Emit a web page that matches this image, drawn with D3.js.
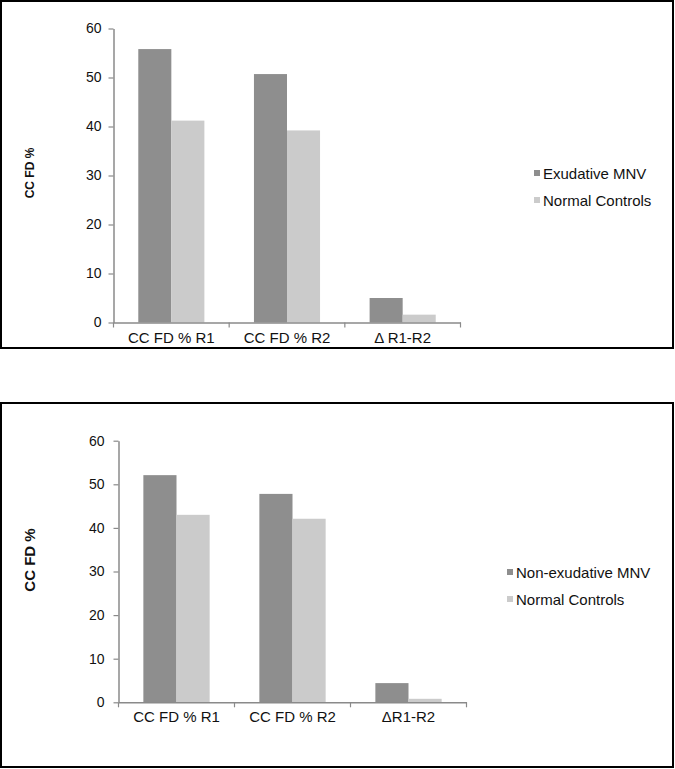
<!DOCTYPE html>
<html>
<head>
<meta charset="utf-8">
<script src="https://cdn.jsdelivr.net/npm/d3@7"></script>
<style>
  html, body { margin: 0; padding: 0; background: #fff; }
  svg { display: block; }
  text { font-family: "Liberation Sans", Arial, Helvetica, sans-serif; fill: #111; }
</style>
</head>
<body>
<svg id="chart" width="675" height="769"></svg>
<script>
// ---- data ----
const categoriesTop = ["CC FD % R1", "CC FD % R2", "\u0394 R1-R2"];
const categoriesBottom = ["CC FD % R1", "CC FD % R2", "\u0394R1-R2"];
const exudativeMNV = [55.8, 50.7, 5.0];
const normalControlsTop = [41.2, 39.2, 1.6];
const nonExudativeMNV = [52.1, 47.8, 4.4];
const normalControlsBottom = [43.0, 42.1, 0.8];
const seriesNamesTop = ["Exudative MNV", "Normal Controls"];
const seriesNamesBottom = ["Non-exudative MNV", "Normal Controls"];
const yTicks = [0, 10, 20, 30, 40, 50, 60];
const yTitle = "CC FD %";

const colors = ["#8e8e8e", "#cbcbcb"];
const axisColor = "#8a8a8a";

const svg = d3.select("#chart");

function drawPanel(cfg) {
  const g = svg.append("g");
  // border
  g.append("rect")
    .attr("x", cfg.box[0]).attr("y", cfg.box[1])
    .attr("width", cfg.box[2]).attr("height", cfg.box[3])
    .attr("fill", "none").attr("stroke", "#000").attr("stroke-width", 2);

  const y = d3.scaleLinear().domain([0, 60]).range([cfg.y0, cfg.y60]);
  const x = d3.scaleBand().domain(cfg.categories).range([cfg.x0, cfg.x1]).padding(0);
  const xs = d3.scaleBand().domain([0, 1]).range([0, x.bandwidth()])
    .paddingInner(0).paddingOuter(0.75);

  // bars
  const series = [cfg.s1, cfg.s2];
  series.forEach((vals, si) => {
    g.selectAll(null).data(vals).enter().append("rect")
      .attr("x", (d, i) => x(cfg.categories[i]) + xs(si))
      .attr("y", d => y(d))
      .attr("width", xs.bandwidth())
      .attr("height", d => y(0) - y(d))
      .attr("fill", colors[si]);
  });

  // y axis
  const yAxis = g.append("g")
    .attr("transform", `translate(${cfg.x0},0)`)
    .call(d3.axisLeft(y).tickValues(yTicks).tickSize(5).tickSizeOuter(0).tickPadding(cfg.yPad));
  yAxis.select(".domain").attr("stroke", axisColor).attr("stroke-width", 1.5);
  yAxis.selectAll(".tick line").attr("stroke", axisColor).attr("stroke-width", 1.2);
  yAxis.selectAll(".tick text").style("font-size", "14px").attr("fill", "#111");

  // x axis
  const xAxis = g.append("g")
    .attr("transform", `translate(0,${cfg.y0})`)
    .call(d3.axisBottom(x).tickSize(0).tickSizeOuter(0).tickPadding(cfg.xPad));
  xAxis.select(".domain").attr("stroke", axisColor).attr("stroke-width", 1.5);
  xAxis.selectAll(".tick text").style("font-size", "15px").attr("fill", "#111");
  // boundary ticks
  const bounds = cfg.categories.map(c => x(c)).concat([x.range()[1]]);
  g.selectAll(null).data(bounds).enter().append("line")
    .attr("x1", d => d).attr("x2", d => d)
    .attr("y1", cfg.y0).attr("y2", cfg.y0 + 5)
    .attr("stroke", axisColor).attr("stroke-width", 1.2);

  // y title
  g.append("text")
    .attr("transform", `translate(${cfg.titleX},${cfg.titleY}) rotate(-90)`)
    .attr("text-anchor", "middle")
    .attr("dominant-baseline", "central")
    .style("font-size", cfg.titleSize + "px")
    .style("font-weight", "bold")
    .text(yTitle);

  // legend
  cfg.names.forEach((n, i) => {
    const ly = cfg.legY + i * 27;
    g.append("rect")
      .attr("x", cfg.legX).attr("y", ly - 3)
      .attr("width", 6).attr("height", 6)
      .attr("fill", colors[i]);
    g.append("text")
      .attr("x", cfg.legX + 9).attr("y", ly)
      .attr("dominant-baseline", "central")
      .style("font-size", "15px")
      .text(n);
  });
}

drawPanel({
  box: [1, 1, 672, 347],
  categories: categoriesTop, s1: exudativeMNV, s2: normalControlsTop,
  names: seriesNamesTop,
  x0: 113.5, x1: 460.5, y0: 322.5, y60: 28.5,
  yPad: 7, xPad: 10,
  titleX: 30, titleY: 173, titleSize: 12,
  legX: 534, legY: 173
});

drawPanel({
  box: [1, 403, 672, 364],
  categories: categoriesBottom, s1: nonExudativeMNV, s2: normalControlsBottom,
  names: seriesNamesBottom,
  x0: 118.5, x1: 466.5, y0: 702.3, y60: 440.7,
  yPad: 9, xPad: 9,
  titleX: 29, titleY: 560, titleSize: 15,
  legX: 507, legY: 572
});
</script>
</body>
</html>
